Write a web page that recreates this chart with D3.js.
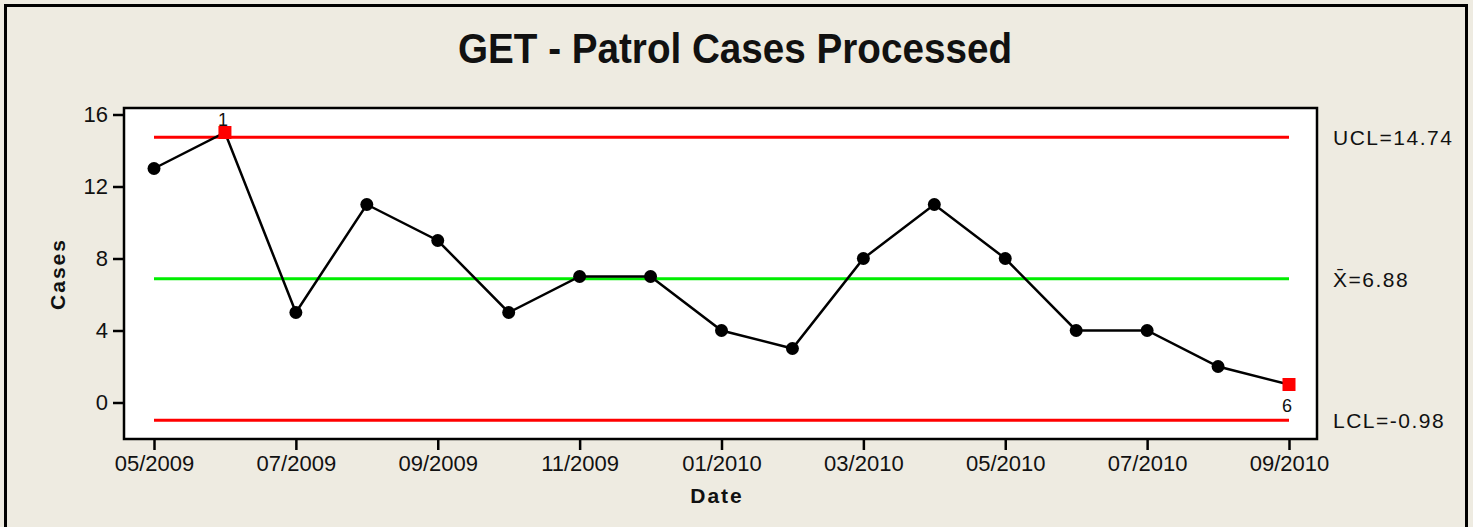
<!DOCTYPE html>
<html lang="en">
  <head>
    <meta charset="utf-8">
    <title>GET - Patrol Cases Processed</title>
    <script src="https://d3js.org/d3.v7.min.js"></script>
    <style>
      body { margin: 0; background: #eeebe1; }
      text { font-family: "Liberation Sans", Arial, sans-serif; fill: #111; }
    </style>
  </head>
  <body>
    <div class="chart"></div>
    <script>
      // monthly counts, control limits and flagged points
      const months = ["05/2009","06/2009","07/2009","08/2009","09/2009","10/2009","11/2009","12/2009",
                      "01/2010","02/2010","03/2010","04/2010","05/2010","06/2010","07/2010","08/2010","09/2010"];
      const cases = [13, 15, 5, 11, 9, 5, 7, 7, 4, 3, 8, 11, 8, 4, 4, 2, 1];
      const xTicks = ["05/2009","07/2009","09/2009","11/2009","01/2010","03/2010","05/2010","07/2010","09/2010"];
      const yTicks = [0, 4, 8, 12, 16];
      const limitNames = ["UCL", "Xbar", "LCL"];
      const limitValues = [14.74, 6.88, -0.98];
      const limitLabels = ["UCL=14.74", "X\u0304=6.88", "LCL=-0.98"];
      const flaggedIdx = [1, 16];
      const flaggedTags = ["1", "6"];

      const width = 1473, height = 527;
      const plot = {left: 124, top: 108, right: 1317, bottom: 439};

      const svg = d3.select('.chart').append('svg')
          .attr('width', width)
          .attr('height', height);

      // outer frame
      svg.append('rect')
          .attr('x', 5.5).attr('y', 5.5)
          .attr('width', 1461).attr('height', 560)
          .attr('fill', '#eeebe1')
          .attr('stroke', '#000')
          .attr('stroke-width', 3);

      const x = d3.scalePoint()
          .domain(months)
          .range([154, 1289]);

      const y = d3.scaleLinear()
          .domain([0, 16])
          .range([402.5, 114.5]);

      svg.append('rect')
          .attr('x', plot.left).attr('y', plot.top)
          .attr('width', plot.right - plot.left)
          .attr('height', plot.bottom - plot.top)
          .attr('fill', '#fff')
          .attr('stroke', '#000')
          .attr('stroke-width', 2.5);

      const yAxis = svg.append('g')
          .attr('transform', `translate(${plot.left},0)`)
          .call(d3.axisLeft(y).tickValues(yTicks).tickSize(11).tickPadding(5));
      const xAxis = svg.append('g')
          .attr('transform', `translate(0,${plot.bottom})`)
          .call(d3.axisBottom(x).tickValues(xTicks).tickSize(11).tickPadding(5));

      [xAxis, yAxis].forEach(g => {
        g.select('.domain').remove();
        g.selectAll('line').attr('stroke', '#000').attr('stroke-width', 2.5);
        g.selectAll('text')
            .attr('font-size', 22)
            .attr('font-family', '"Liberation Sans", Arial, sans-serif')
            .attr('fill', '#111');
      });

      // control limit lines
      const limitColor = {UCL: '#ff0000', Xbar: '#00ee00', LCL: '#ff0000'};
      svg.selectAll('.limit')
          .data(limitNames)
          .join('line')
          .attr('class', 'limit')
          .attr('x1', x(months[0]))
          .attr('x2', x(months[months.length - 1]))
          .attr('y1', (d, i) => y(limitValues[i]))
          .attr('y2', (d, i) => y(limitValues[i]))
          .attr('stroke', d => limitColor[d])
          .attr('stroke-width', 3);

      svg.selectAll('.limit-label')
          .data(limitLabels)
          .join('text')
          .attr('class', 'limit-label')
          .attr('x', 1333)
          .attr('y', (d, i) => y(limitValues[i]) + 8)
          .attr('font-size', 21)
          .attr('letter-spacing', 1.5)
          .text(d => d);

      // data line and markers
      const line = d3.line()
          .x((d, i) => x(months[i]))
          .y(d => y(d));

      svg.append('path')
          .datum(cases)
          .attr('d', line)
          .attr('fill', 'none')
          .attr('stroke', '#000')
          .attr('stroke-width', 2.5);

      cases.forEach((v, i) => {
        if (flaggedIdx.includes(i)) return;
        svg.append('circle')
            .attr('cx', x(months[i]))
            .attr('cy', y(v))
            .attr('r', 6.5)
            .attr('fill', '#000');
      });

      flaggedIdx.forEach((idx, k) => {
        svg.append('rect')
            .attr('x', x(months[idx]) - 6.5)
            .attr('y', y(cases[idx]) - 6.5)
            .attr('width', 13).attr('height', 13)
            .attr('fill', '#ff0000');
        const above = cases[idx] > limitValues[1];
        svg.append('text')
            .attr('x', x(months[idx]) - 2)
            .attr('y', above ? y(cases[idx]) - 7 : y(cases[idx]) + 27)
            .attr('text-anchor', 'middle')
            .attr('font-size', 18)
            .text(flaggedTags[k]);
      });

      svg.append('text')
          .attr('x', 735)
          .attr('y', 63)
          .attr('text-anchor', 'middle')
          .attr('font-size', 42)
          .attr('font-weight', 'bold')
          .attr('textLength', 554)
          .attr('lengthAdjust', 'spacingAndGlyphs')
          .text('GET - Patrol Cases Processed');

      svg.append('text')
          .attr('x', 717)
          .attr('y', 503)
          .attr('text-anchor', 'middle')
          .attr('font-size', 21)
          .attr('font-weight', 'bold')
          .attr('letter-spacing', 2)
          .text('Date');

      svg.append('text')
          .attr('transform', 'translate(65,274) rotate(-90)')
          .attr('text-anchor', 'middle')
          .attr('font-size', 21)
          .attr('font-weight', 'bold')
          .attr('letter-spacing', 2)
          .text('Cases');
    </script>
  </body>
</html>
